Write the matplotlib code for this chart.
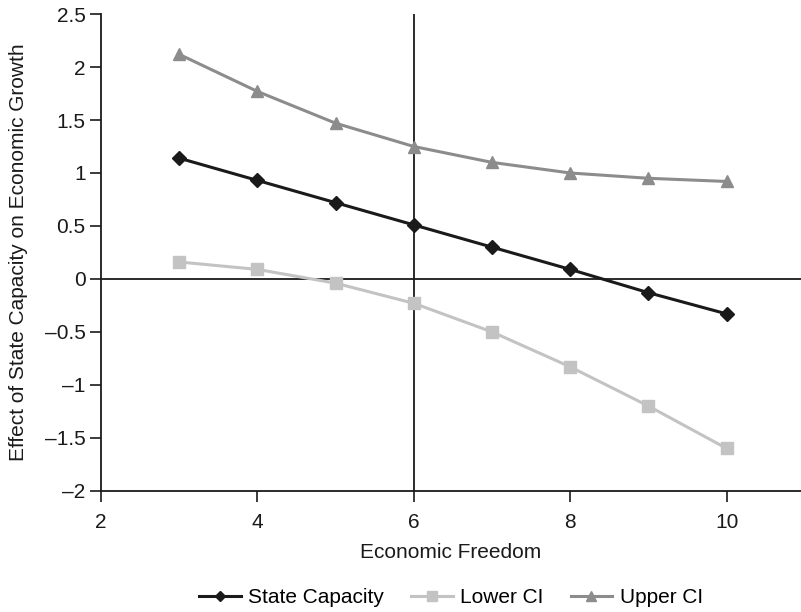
import matplotlib.pyplot as plt
from matplotlib.ticker import FuncFormatter
import numpy as np

plt.rcParams['font.family'] = ['Liberation Sans', 'DejaVu Sans']
plt.rcParams['font.size'] = 15

# --- Marginal effect of state capacity across economic freedom ---
freedom = [3, 4, 5, 6, 7, 8, 9, 10]
state_capacity = [1.14, 0.93, 0.72, 0.51, 0.30, 0.09, -0.13, -0.33]
lower_ci = [0.16, 0.09, -0.04, -0.23, -0.50, -0.83, -1.20, -1.60]
upper_ci = [2.12, 1.77, 1.47, 1.25, 1.10, 1.00, 0.95, 0.92]


def fmt_tick(v, pos):
    # negative values get a dash-style minus sign
    return ('%g' % v).replace('-', '\u2013')


fig = plt.figure(figsize=(8.01, 6.12), dpi=100)
ax = fig.add_axes([0.126, 0.198, 0.874, 0.779])

ax.plot(freedom, state_capacity, color='#1a1a1a', lw=2.2, marker='D',
        markersize=7, label='State Capacity', zorder=5)
ax.plot(freedom, lower_ci, color='#c3c3c3', lw=2.2, marker='s',
        markersize=9, label='Lower CI', zorder=3)
ax.plot(freedom, upper_ci, color='#8c8c8c', lw=2.2, marker='^',
        markersize=9, label='Upper CI', zorder=4)

# reference lines at zero effect and at freedom = 6
ax.axhline(0, color='#1a1a1a', lw=1.3, zorder=2)
ax.axvline(6, color='#1a1a1a', lw=1.3, zorder=2)

ax.set_xlim(2, 10.95)
ax.set_ylim(-2, 2.5)
ax.set_xticks([2, 4, 6, 8, 10])
ax.set_yticks(np.arange(-2, 2.51, 0.5))
ax.yaxis.set_major_formatter(FuncFormatter(fmt_tick))

for side in ['top', 'right']:
    ax.spines[side].set_visible(False)
for side in ['left', 'bottom']:
    ax.spines[side].set_linewidth(1.3)
    ax.spines[side].set_color('#1a1a1a')
ax.tick_params(direction='out', length=8, width=1.2, color='#1a1a1a',
               labelsize=15, labelcolor='#1a1a1a')
ax.tick_params(axis='x', pad=8)
ax.tick_params(axis='y', pad=3)

ax.set_xlabel('Economic Freedom', fontsize=15, color='#1a1a1a', labelpad=8)
ax.set_ylabel('Effect of State Capacity on Economic Growth', fontsize=15,
              color='#1a1a1a')
ax.yaxis.set_label_coords(-0.104, 0.5)

ax.legend(loc='upper center', bbox_to_anchor=(0.5, -0.165), ncol=3,
          frameon=False, handlelength=2, handletextpad=0.35,
          columnspacing=1.3, markerscale=0.8, fontsize=15)

fig.savefig('out.png', dpi=100)
